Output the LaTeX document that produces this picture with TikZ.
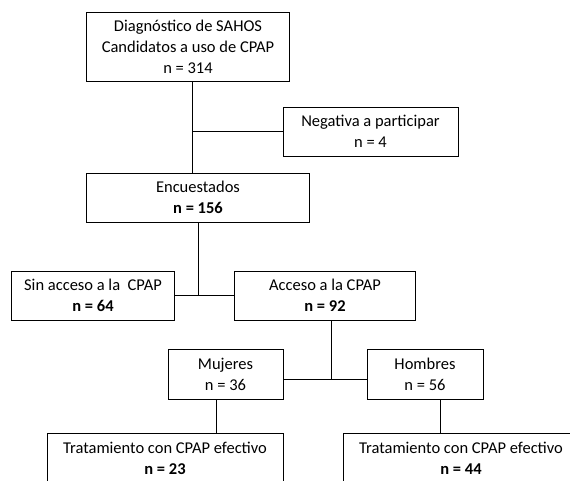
\documentclass[tikz,border=0pt]{standalone}
\usepackage{fontspec}
\setmainfont{Carlito}
\usepackage{tikz}

\begin{document}
\begin{tikzpicture}[x=1pt,y=-1pt,
   caja/.style={draw,shape=rectangle,line width=1pt,align=center,inner sep=0pt,
     minimum height=49pt,font=\fontsize{16.5}{21}\selectfont},
   linea/.style={line width=0.9pt}]
   \useasboundingbox (0,0) rectangle (570,480);
   \clip (0,0) rectangle (570,480);
   \path (188,46.5) node[caja,minimum width=203pt,minimum height=69pt] (S)
   {Diagnóstico de SAHOS\\ Candidatos a uso de CPAP\\ n = 314};
   \path (370.5,131.5) node[caja,minimum width=175pt] (Neg) {Negativa a participar\\ n = 4};
   \path (198,197.5) node[caja,minimum width=223pt] (Enc) {Encuestados\\ \textbf{n = 156}};
   \path (93,295.5) node[caja,minimum width=163pt] (Sin) {Sin acceso a la\ \ CPAP\\ \textbf{n = 64}};
   \path (325,295.5) node[caja,minimum width=181pt] (Acc) {Acceso a la CPAP\\ \textbf{n = 92}};
   \path (225.5,374) node[caja,minimum width=115pt,minimum height=50pt] (Muj) {Mujeres\\ n = 36};
   \path (425,374) node[caja,minimum width=116pt,minimum height=50pt] (Hom) {Hombres\\ n = 56};
   \path (165,458) node[caja,minimum width=236pt,minimum height=50pt] (TL)
   {Tratamiento con CPAP efectivo\\ \textbf{n = 23}};
   \path (461,458) node[caja,minimum width=236pt,minimum height=50pt] (TR)
   {Tratamiento con CPAP efectivo\\ \textbf{n = 44}};
   % conectores
   \draw[linea] ([xshift=4.5pt]S.south) -- ([xshift=4.5pt]S.south |- Enc.north);
   \draw[linea] ([xshift=4.5pt]S.south |- Neg.west) -- (Neg.west);
   \draw[linea] (Enc.south) -- (Enc.south |- Sin.east);
   \draw[linea] (Sin.east) -- (Acc.west);
   \coordinate (mh) at (331,379);
   \draw[linea] (Acc.south -| mh) -- (mh);
   \draw[linea] (Muj.east |- mh) -- (Hom.west |- mh);
   \draw[linea] ([xshift=-9pt]Muj.south) -- ([xshift=-9pt]Muj.south |- TL.north);
   \draw[linea] ([xshift=15pt]Hom.south) -- ([xshift=15pt]Hom.south |- TR.north);
\end{tikzpicture}
\end{document}
